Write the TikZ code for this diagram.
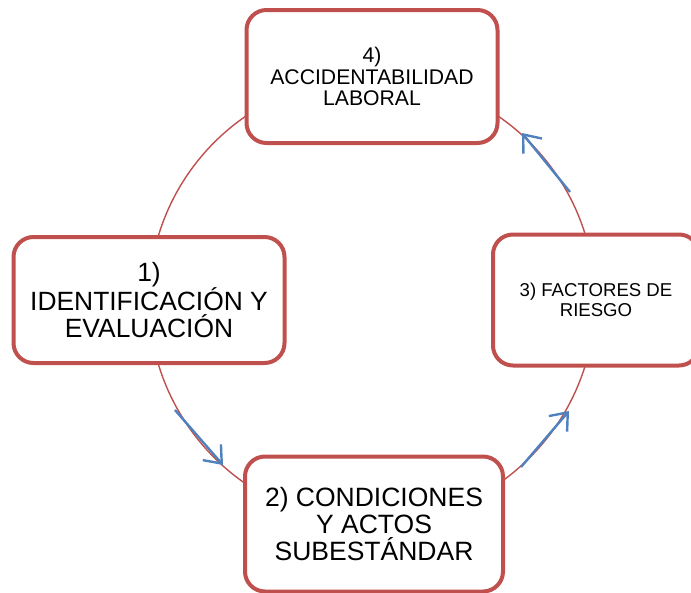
\documentclass[tikz,border=0pt]{standalone}
\usepackage{fontspec}
\setmainfont{Liberation Sans}
\usetikzlibrary{arrows.meta, positioning}
\definecolor{stagered}{RGB}{192,80,77}
\definecolor{flowblue}{RGB}{79,129,189}

\begin{document}
\begin{tikzpicture}[
    x=1pt, y=-1pt,
    stage/.style={draw=stagered, line width=4pt, rounded corners=20pt, fill=white, align=center, inner sep=0pt},
    cycleline/.style={draw=stagered, line width=1.4pt},
    flow/.style={draw=flowblue, line width=2.4pt, -{Straight Barb[length=15pt, width=24pt, line width=2.4pt]}}
]
    \clip (0,0) rectangle (691,592);

    % the cycle
    \coordinate (centre) at (372,300);
    \draw[cycleline] (centre) circle[radius=223];

    % arrows along the cycle
    \coordinate (f1s) at (175,410);
    \coordinate (f1e) at (223,465);
    \coordinate (f2s) at (521,467);
    \coordinate (f2e) at (569,411);
    \coordinate (f3s) at (570,192);
    \coordinate (f3e) at (522,133);
    \draw[flow] (f1s) -- (f1e);
    \draw[flow] (f2s) -- (f2e);
    \draw[flow] (f3s) -- (f3e);

    % stages
    \node[stage, minimum width=271, minimum height=126, font=\fontsize{26.4}{27}\selectfont] (ident) at (149,300)
        {1)\\IDENTIFICACIÓN Y\\EVALUACIÓN};
    \node[stage, minimum width=258, minimum height=135, font=\fontsize{26.5}{27}\selectfont] (cond) at (374,524)
        {2) CONDICIONES\\Y ACTOS\\SUBESTÁNDAR};
    \node[stage, minimum width=206, minimum height=131, font=\fontsize{18.6}{20}\selectfont] (risk) at (596,300)
        {3) FACTORES DE\\RIESGO};
    \node[stage, minimum width=251, minimum height=133, font=\fontsize{21.2}{21.5}\selectfont] (acc) at (372,76.5)
        {4)\\ACCIDENTABILIDAD\\LABORAL};
\end{tikzpicture}
\end{document}
